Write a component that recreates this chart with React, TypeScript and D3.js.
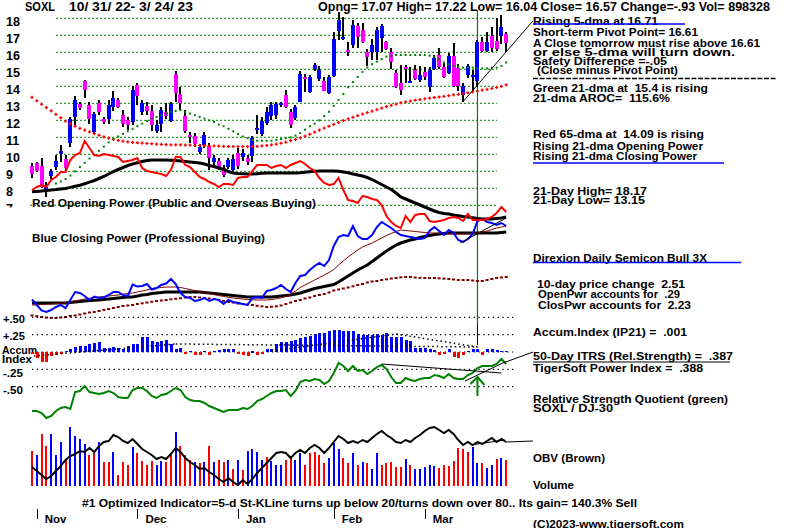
import React from "react";
import * as d3 from "d3";

// ---------------- DATA ----------------
const priceTicks = [7, 8, 9, 10, 11, 12, 13, 14, 15, 16, 17, 18];
const monthLabels = ["Nov", "Dec", "Jan", "Feb", "Mar"];
const monthStartIdx = [1, 22, 43, 63, 82];
const signalIdx = 93;

const open = [9.33,9.47,9.31,7.8,8.75,9.25,10.04,9.73,10.65,12.2,
 12.96,14.3,12.9,11.3,13.0,12.08,12.08,12.8,13.2,12.3,
 12.0,11.9,14.08,12.5,12.86,12.57,11.37,11.8,12.47,11.98,
 14.72,13.53,12.25,11.14,11.1,10.16,10.55,10.5,9.57,9.6,
 9.2,9.27,9.08,10.1,9.86,9.76,9.92,11.43,11.18,11.82,
 12.27,12.31,12.94,13.49,12.5,12.12,13.1,14.55,13.65,15.02,
 14.43,14.3,13.63,14.63,17.25,16.78,16.14,16.43,17.57,17.3,
 16.0,16.0,16.0,16.82,16.6,16.0,14.76,14.18,15.16,14.25,
 14.96,14.37,14.86,13.98,15.02,15.84,15.16,14.76,15.8,15.06,
 13.49,14.67,14.57,14.3,16.6,16.08,16.98,16.67,16.98,17.07];
const high = [9.47,9.57,9.76,8.4,9.16,9.96,10.55,9.96,12.2,13.45,
 13.1,14.4,13.1,12.5,13.2,12.2,13.2,13.7,13.33,12.6,
 12.2,14.0,14.2,13.2,13.1,12.9,12.0,12.8,13.0,13.1,
 14.92,13.98,12.6,11.3,11.24,10.6,11.3,10.65,9.96,9.76,
 9.4,9.8,9.96,10.35,10.33,9.96,11.1,12.3,12.2,12.8,
 13.06,13.1,13.1,13.8,12.65,12.9,14.9,14.7,14.67,15.35,
 15.2,14.55,14.67,17.2,18.4,18.1,16.6,17.9,17.7,17.7,
 16.2,16.8,17.5,17.65,16.65,16.24,14.96,15.25,15.25,15.16,
 15.25,15.2,15.16,15.16,15.84,16.24,15.41,15.94,16.53,15.3,
 14.18,15.3,14.96,16.73,16.92,17.2,17.5,18.0,18.2,17.22];
const low = [8.63,8.98,8.0,7.5,8.55,9.08,9.57,9.08,10.45,11.7,
 12.6,13.3,11.8,11.2,12.3,11.76,11.8,12.55,12.7,11.6,
 11.45,11.7,12.9,12.3,12.3,11.37,11.24,11.3,12.1,11.92,
 13.1,12.6,11.24,10.65,10.45,10.0,10.4,9.1,9.2,9.08,
 8.65,9.16,9.02,9.16,9.6,9.37,9.53,11.18,11.1,11.73,
 12.0,12.1,12.8,12.7,11.57,12.0,13.1,13.65,13.6,14.9,
 14.3,13.7,13.57,14.57,16.7,16.7,15.8,16.24,16.24,16.55,
 15.2,15.55,15.55,16.0,16.15,15.0,13.92,13.5,14.2,14.24,
 14.37,14.27,14.37,13.65,14.96,15.02,14.47,14.7,13.98,13.73,
 13.1,14.5,13.73,13.98,16.0,16.0,16.04,16.08,16.47,16.04];
const close = [8.82,9.04,8.1,8.06,9.0,9.6,10.2,9.22,12.08,13.2,
 12.7,13.8,12.1,12.35,12.47,11.88,12.9,13.3,12.8,11.8,
 11.7,13.8,13.45,13.0,12.57,11.7,11.7,12.6,12.27,12.96,
 13.6,13.04,11.37,11.0,10.6,10.45,11.14,9.76,9.8,9.2,
 8.8,9.66,9.7,9.33,10.1,9.53,10.94,11.57,11.96,12.47,
 12.9,12.94,13.0,12.8,11.73,12.8,14.7,14.45,14.57,15.25,
 14.96,13.73,14.57,16.78,17.9,16.9,16.04,17.6,16.92,16.6,
 15.75,16.43,17.3,17.57,16.2,15.45,13.98,13.8,15.06,14.33,
 14.43,14.67,14.57,14.96,15.65,15.16,14.57,15.8,14.04,14.0,
 14.04,15.2,14.67,16.63,16.08,16.63,16.24,16.2,17.49,16.57];

const ma21 = [null,null,null,null,null,8.28,8.4,8.55,8.75,9.0,
 9.25,9.5,9.75,9.95,10.2,10.45,10.7,10.9,11.05,11.2,
 11.35,11.5,11.65,11.8,11.95,12.1,12.2,12.3,12.4,12.5,
 12.55,12.6,12.5,12.4,12.3,12.2,12.1,12.0,11.9,11.75,
 11.65,11.5,11.35,11.2,11.05,10.95,10.85,10.8,10.8,10.8,
 10.8,10.85,10.9,10.95,11.0,11.1,11.25,11.45,11.65,11.8,
 12.0,12.25,12.5,12.85,13.2,13.55,13.95,14.25,14.55,14.85,
 15.1,15.3,15.45,15.6,15.75,15.8,15.84,15.84,15.84,15.84,
 15.84,15.84,15.84,15.8,15.75,15.6,15.4,15.3,15.2,15.15,
 15.1,15.1,15.1,15.05,15.05,15.05,15.1,15.1,15.2,15.4];
const ma65 = [13.35,13.15,12.95,12.75,12.55,12.35,12.15,11.95,11.8,11.65,
 11.52,11.42,11.32,11.22,11.12,11.03,10.95,10.88,10.82,10.77,
 10.73,10.7,10.68,10.66,10.64,10.62,10.6,10.58,10.57,10.56,
 10.55,10.55,10.54,10.54,10.53,10.52,10.51,10.5,10.49,10.48,
 10.47,10.46,10.46,10.45,10.45,10.45,10.45,10.47,10.5,10.52,
 10.55,10.6,10.65,10.72,10.8,10.88,10.97,11.07,11.18,11.3,
 11.42,11.54,11.65,11.76,11.87,11.98,12.08,12.18,12.27,12.36,
 12.45,12.54,12.63,12.72,12.8,12.88,12.95,13.02,13.08,13.13,
 13.18,13.22,13.26,13.3,13.34,13.37,13.41,13.45,13.49,13.53,
 13.57,13.62,13.67,13.72,13.77,13.82,13.88,13.94,14.0,14.08];

const openPower = [70,71.5,72.5,71.5,75,76.5,79,79,85,87.5,
 88.5,94.5,91,87.5,87,88,87.5,87,86.5,84,
 84.5,85,86,81,79.5,79,78.5,78,77,80,
 86.5,86.5,82.5,81.5,79,76.5,75.5,74,73,71.5,
 73,73,72.5,76,76.5,76.5,79.5,82.5,82.5,82.5,
 81,82,82.5,81,82.5,83.5,84.5,83,81,79.5,
 76,73.5,72.5,73,76,70,65,64.5,63.5,67,
 66.5,65.5,65,62.5,57,54,52,51,57,54,
 57.5,58,58,54.5,54,54.5,55,56,56.5,56,
 54.5,58,55,55,55,55.5,56.5,58.5,61.5,59];
const openPowerMa = [69.1,69.3,69.5,69.8,70,70.2,70.5,70.8,71.3,71.9,
 72.4,73.1,73.9,74.75,75.75,76.75,78,79.25,80.25,81.25,
 82.25,83,83.6,84.25,84.75,85,85,85,85,84.85,
 84.7,84.5,84.25,84,83.75,83.5,83,82.25,81.75,81,
 80.25,79.25,78.5,78.25,78.1,78,78,78.15,78.35,78.5,
 78.5,78.5,78.5,78.5,78.5,78.5,78.6,78.85,79.1,79.35,
 79.5,79.5,79.5,79.5,79.35,79,78.6,78,77.5,77,
 76.25,75.25,74,72.75,71.5,70.25,68.5,66.5,65.5,64.5,
 63.5,62.5,61.5,60.5,59.5,58.75,58.25,58,57.5,57.1,
 56.75,56.5,56.1,55.75,55.5,55.5,55.5,55.75,56,56.5];
const closePower = [15.25,12.5,9.75,9,10,11.5,12.5,11,15,19,
 18.5,17,15,16.75,16,16.25,17.5,19,19,17.5,
 17,22.75,21.75,22,23,20.25,21,22.5,23.25,25.5,
 23,18.5,16.5,16,14.5,15,16,14.5,15.5,15,
 13,15,14,13.5,13,12.5,16,16.5,16,19.5,
 20,21,22.5,20.5,19,23.5,27,27.5,30,32,
 33.5,32,35,42,46.5,47.5,47,52,47,45.5,
 45.5,47.5,51.5,54,52.5,51,49,47.5,47,46.5,
 46,45.5,46,49.5,51.5,49.5,47.5,50,48.5,45,
 44,45.5,48,54.5,55.5,54,53.5,52.5,53.5,52];
const closePowerMa21 = [12.5,12.6,12.75,12.85,13,13.2,13.4,13.7,14.1,14.6,
 15,15.5,15.9,16.25,16.5,16.75,17,17.25,17.5,17.9,
 18.25,18.5,19,19.5,20,20.75,21,21.25,21.5,21.5,
 21.5,21.25,20.75,20.25,19.75,19.25,18.75,18.25,17.75,17.25,
 16.75,16.35,16,15.75,15.5,15.25,15.1,15,15,15,
 15.25,15.6,16.1,16.75,18,19.5,21.25,22.5,23.75,25,
 26.25,27.5,28.75,30.25,32.5,34.5,36.5,38.25,40,41.5,
 42.5,43.5,44.75,46,47.25,48.25,49.25,50,49.75,49.5,
 49.25,49,48.75,48.5,48.5,48.4,48.25,48.15,48,48,
 48,48,48.25,48.75,49,49.5,50.25,51,51.5,52];
const closePowerMa = [13.5,13.5,13.5,13.5,13.5,13.5,13.5,13.5,13.75,14,
 14.25,14.5,14.75,14.9,15,15.25,15.5,15.75,16,16.25,
 16.5,16.5,17,17.5,17.75,18.25,18.5,18.75,19,19,
 19,19,19,19,19,19,18.75,18.5,18.25,18,
 17.75,17.5,17.25,17,16.75,16.5,16.5,16.5,16.5,16.5,
 16.5,16.75,17,17.25,17.5,18,18.5,19.25,20,20.75,
 21.25,21.75,22.25,22.75,24,25.5,27,28.5,30,31.25,
 32.5,34.25,36,37.75,39.5,41,42.5,43.5,44.25,45,
 45.5,46.25,46.75,47.25,47.75,48,48.25,48.5,48.5,48.5,
 48.5,48.5,48.5,48.5,48.5,48.5,48.5,48.5,48.75,49];
const closePowerMa65 = [7.25,6.9,6.5,6.2,6,6,6.25,6.5,7,7.25,
 7.75,8.25,8.75,9,9.5,10,10.5,11,11.5,12,
 12.25,12.5,13,13.35,13.75,14.1,14.5,14.75,15,15.35,
 15.6,15.9,16.25,16.5,16.5,16.25,16,15.75,15.5,15,
 14.5,14,13.75,13.25,13,12.75,12.5,12.1,11.85,11.5,
 11.6,11.85,12.25,13,13.75,14.5,15,15.75,16.25,17,
 17.5,18,18.75,19.75,20.25,20.75,21.25,21.85,22.5,23,
 23.75,24.25,24.5,25,25.35,25.75,26,26.35,26.5,26.5,
 26.25,26.1,26,26,26,25.85,25.65,25.5,25.25,25,
 25,25,24.75,24.5,24.5,25,25.5,26,26.25,26.5];

const accum = [-0.03,-0.08,-0.14,-0.15,-0.06,-0.04,-0.03,0.02,0.05,0.07,
 0.08,0.09,0.11,0.13,0.15,0.06,0.06,0.07,0.06,0.04,
 0.08,0.11,0.12,0.22,0.21,0.16,0.14,0.16,0.17,0.11,
 0.04,0.06,-0.02,0.02,-0.04,-0.04,0.02,-0.04,0.02,0.03,
 0.04,0.05,0.04,-0.03,-0.04,-0.06,0.01,-0.04,-0.03,0.04,
 0.05,0.12,0.14,0.15,0.16,0.17,0.20,0.22,0.23,0.26,
 0.27,0.28,0.30,0.32,0.32,0.31,0.30,0.31,0.26,0.24,
 0.24,0.25,0.26,0.24,0.28,0.22,0.22,0.21,0.18,0.16,
 0.06,0.06,0.06,0.05,0.03,-0.04,-0.03,0.05,-0.07,-0.08,
 -0.05,0.02,0.04,0.04,-0.04,0.04,0.04,0.03,0.02,0.02];
const rsQuotient = [19,19,17,12,14,19,22,23,21,38,
 39,44,38,37,36,37,39,37,33,32,
 32,40,42,42,39,34,32,35,36,39,
 42,40,33,30,29,29,27,24,22,20,
 18,20,20,20,22,21,24,29,31,34,
 37,39,39,40,34,39,48,50,49,51,
 50,46,49,57,67,64,59,64,59,60,
 56,59,63,65,61,53,47,47,52,50,
 49,51,52,52,55,54,52,56,52,51,
 51,55,57,62,64,64,64,66,71,66];
const obv = [23,19,15,11,14,19,24,30,34,36,
 39,38,42,38,44,48,49,55,53,49,
 47,51,46,41,38,35,31,33,31,36,
 42,38,32,28,25,21,22,18,15,11,
 8,12,8,5,10,6,11,17,22,27,
 32,37,38,37,32,37,40,37,42,45,
 42,37,42,48,54,51,47,49,47,50,
 48,52,56,59,55,52,48,47,50,48,
 52,55,59,62,63,60,57,60,56,50,
 45,48,45,48,46,49,52,48,51,48];
const volume = [35,31,52,40,52,31,44,26,59,50,
 47,42,31,34,44,24,24,34,11,24,
 21,39,33,25,21,25,21,25,24,31,
 54,40,31,26,24,23,24,40,24,26,
 24,26,17,26,16,35,37,34,26,29,
 25,21,21,26,28,26,33,21,33,34,
 31,23,28,43,37,28,23,33,21,24,
 23,17,33,21,23,24,19,19,27,21,
 17,17,19,21,20,18,21,20,25,38,
 37,34,39,23,23,18,21,27,28,26];
const volDir = "rbrrbbbrbbbbrrbrrbrrrbrrrrbbrrbrrrbrbrbrrbrbrbbbbrbbbrrbbrrrrrbbbrrbrbrbbrrrrrbrbbbbbrrrrrrrbbrbbrbr".split("");

const accumLevels = [0.5, 0.25, 0, -0.25, -0.5];
const priceTrend = [{ i: 90, v: 13.1 }, { i: 104.6, v: 17.85 }];
const accumTrends = [
  [{ i: 0.4, v: -0.058 }, { i: 30, v: 0.116 }],
  [{ i: 30, v: 0.116 }, { i: 93, v: 0.072 }],
  [{ i: 50, v: 0.014 }, { i: 76, v: 0.26 }],
  [{ i: 76, v: 0.26 }, { i: 93, v: 0.072 }],
];
const rsTrends = [
  [{ i: 73, v: 66 }, { i: 98, v: 57 }],
  [{ i: 90.4, v: 49 }, { i: 98.3, v: 67 }, { i: 104.6, v: 78 }],
];
const powTrend = [{ i: 89.4, v: 43.5 }, { i: 99, v: 56 }];
const obvTrend = [{ i: 91.6, v: 45 }, { i: 98.7, v: 50 }];
const obvTail = [{ i: 99, v: 48 }, { i: 104.6, v: 49 }];

// ---------------- COMPONENT ----------------
const FONT = "'Liberation Sans', Arial, Helvetica, sans-serif";

function Txt(props: { x: number; y: number; w?: number; children: string; fill?: string; size?: number }) {
  const { x, y, w, children, fill = "#000", size = 11.5 } = props;
  return (
    <text
      x={x}
      y={y}
      fontFamily={FONT}
      fontWeight="bold"
      fontSize={size}
      fill={fill}
      textLength={w}
      lengthAdjust={w ? "spacingAndGlyphs" : undefined}
      style={{ whiteSpace: "pre" }}
    >
      {children}
    </text>
  );
}

export default function App() {
  const n = close.length;
  const idx = d3.range(n);
  const x = d3.scaleLinear().domain([0, n - 1]).range([32, 506.2]);
  const yP = d3.scaleLinear().domain([7, 18]).range([205.3, 18.3]);
  const yPow = d3.scaleLinear().domain([0, 100]).range([330, 130]);
  const yAcc = d3.scaleLinear().domain([-0.5, 0.5]).range([386.6, 317.4]);
  const yRs = d3.scaleLinear().domain([0, 100]).range([430, 330]);
  const yVol = d3.scaleLinear().domain([0, 60]).range([486, 426]);
  const yObv = d3.scaleLinear().domain([0, 100]).range([490, 390]);

  const powLine = d3.line<number>().x((_, i) => x(i)).y((d) => yPow(d));
  const rsLine = d3.line<number>().x((_, i) => x(i)).y((d) => yRs(d));
  const obvLine = d3.line<number>().x((_, i) => x(i)).y((d) => yObv(d));
  const ptLine = (sy: (v: number) => number) =>
    d3.line<{ i: number; v: number }>().x((d) => x(d.i)).y((d) => sy(d.v));

  const gridX0 = 56, gridX1 = 497;
  const sigX = x(signalIdx);

  return (
    <svg
      width={800}
      height={528}
      viewBox="0 0 800 528"
      style={{ position: "absolute", left: 0, top: 0, background: "#fff" }}
    >
      <defs>
        <clipPath id="clip7">
          <rect x={0} y={0} width={30} height={207.5} />
        </clipPath>
      </defs>
      <rect x={0} y={0} width={800} height={528} fill="#fff" />

      {/* price gridlines */}
      {priceTicks.map((p) => (
        <line
          key={"g" + p}
          x1={p === 7 ? 30 : gridX0}
          x2={gridX1}
          y1={yP(p)}
          y2={yP(p)}
          stroke="#008000"
          strokeWidth={1}
          strokeDasharray="2 2"
        />
      ))}
      {priceTicks.map((p) => (
        <g key={"pl" + p} clipPath={p === 7 ? "url(#clip7)" : undefined}>
          <Txt x={6} y={yP(p) + 7.7} size={12.5}>{String(p)}</Txt>
        </g>
      ))}

      {/* header */}
      <Txt x={25} y={11} w={30} size={12.5}>SOXL</Txt>
      <Txt x={69} y={11} w={124} size={12.5}>10/ 31/ 22- 3/ 24/ 23</Txt>
      <Txt x={318} y={11} w={452} size={12.5}>Opng= 17.07 High= 17.22 Low= 16.04 Close= 16.57 Change=-.93 Vol= 898328</Txt>

      {/* signal vertical */}
      <line x1={sigX} x2={sigX} y1={10} y2={324} stroke="#008000" strokeWidth={1.2} />
      <line x1={sigX} x2={sigX} y1={324} y2={345} stroke="#000" strokeWidth={1} />

      {/* candles */}
      {idx.map((i) => {
        const up = close[i] >= open[i];
        const yt = yP(Math.max(open[i], close[i]));
        const yb = yP(Math.min(open[i], close[i]));
        const cx = Math.round(x(i));
        return (
          <g key={"c" + i} shapeRendering="crispEdges">
            <rect x={cx - 1} y={yP(high[i])} width={2} height={yP(low[i]) - yP(high[i])} fill="#000" />
            <rect x={cx - 2} y={yt} width={4} height={Math.max(2, yb - yt)} fill={up ? "#0000ff" : "#ff00ff"} />
          </g>
        );
      })}

      {/* 65-dma red crosses */}
      {idx.map((i) => (
        <path
          key={"r" + i}
          d={`M${x(i) - 1.6},${yP(ma65[i])}h3.2M${x(i)},${yP(ma65[i]) - 1.6}v3.2`}
          stroke="#ff0000"
          strokeWidth={1.3}
        />
      ))}
      {/* 21-dma green dots */}
      {idx.filter((i) => ma21[i] != null).map((i) => (
        <rect key={"gd" + i} x={x(i) - 1} y={yP(ma21[i] as number) - 1} width={2} height={2} fill="#008000" />
      ))}

      {/* price trend line */}
      <path d={ptLine(yP)(priceTrend) || ""} stroke="#000" strokeWidth={1} fill="none" />

      {/* power panels */}
      <path d={powLine(closePowerMa) || ""} stroke="#000" strokeWidth={3} fill="none" />
      <path d={powLine(closePowerMa21) || ""} stroke="#800000" strokeWidth={1} fill="none" />
      {idx.map((i) => (
        <rect key={"bd" + i} x={x(i) - 1.5} y={yPow(closePowerMa65[i]) - 1} width={3} height={2} fill="#800000" />
      ))}
      <path d={powLine(closePower) || ""} stroke="#0000ff" strokeWidth={2} fill="none" />
      <path d={powLine(openPowerMa) || ""} stroke="#000" strokeWidth={3} fill="none" />
      <path d={powLine(openPower) || ""} stroke="#ff0000" strokeWidth={2} fill="none" />
      <path d={ptLine(yPow)(powTrend) || ""} stroke="#000" strokeWidth={1} fill="none" />

      <Txt x={32} y={206.5} w={284}>Red Opening Power (Public and Overseas Buying)</Txt>
      <Txt x={32} y={242} w={233}>Blue Closing Power (Professional Buying)</Txt>

      {/* accum panel */}
      {accumLevels.map((v) => (
        <line
          key={"al" + v}
          x1={32}
          x2={516}
          y1={yAcc(v)}
          y2={yAcc(v)}
          stroke="#000"
          strokeWidth={1.2}
          strokeDasharray="1.3 3.5"
        />
      ))}
      <Txt x={3} y={323} w={22}>+.50</Txt>
      <Txt x={3} y={340} w={22}>+.25</Txt>
      <Txt x={2} y={353.5} w={35}>Accum</Txt>
      <Txt x={2} y={363} w={30}>Index</Txt>
      <Txt x={3} y={377} w={20}>-.25</Txt>
      <Txt x={3} y={394} w={20}>-.50</Txt>
      {idx.map((i) => {
        const v = accum[i];
        const y0 = yAcc(0);
        const y1 = yAcc(v);
        return (
          <rect
            key={"a" + i}
            x={Math.round(x(i)) - 1.5}
            y={Math.min(y0, y1)}
            width={3}
            height={Math.max(1.5, Math.abs(y1 - y0))}
            fill={v >= 0 ? "#0000ff" : "#ff0000"}
            shapeRendering="crispEdges"
          />
        );
      })}
      {accumTrends.map((t, k) => (
        <path key={"at" + k} d={ptLine(yAcc)(t) || ""} stroke="#000" strokeWidth={1.5} strokeDasharray="1.5 3" fill="none" />
      ))}

      {/* RS quotient */}
      <path d={rsLine(rsQuotient) || ""} stroke="#008000" strokeWidth={2} fill="none" />
      {rsTrends.map((t, k) => (
        <path key={"rt" + k} d={ptLine(yRs)(t) || ""} stroke="#000" strokeWidth={1} fill="none" />
      ))}
      <line x1={sigX} x2={sigX} y1={yRs(34)} y2={yRs(53)} stroke="#008000" strokeWidth={2} />
      <path
        d={`M${sigX - 7},${yRs(46)}L${sigX},${yRs(53)}L${sigX + 7},${yRs(45)}`}
        stroke="#008000"
        strokeWidth={2}
        fill="none"
      />

      {/* volume */}
      {idx.map((i) => (
        <rect
          key={"v" + i}
          x={Math.round(x(i)) - 1}
          y={yVol(volume[i])}
          width={2}
          height={yVol(0) - yVol(volume[i])}
          fill={volDir[i] === "b" ? "#0000ff" : "#ff0000"}
          shapeRendering="crispEdges"
        />
      ))}
      <path d={obvLine(obv) || ""} stroke="#000" strokeWidth={2} fill="none" />
      <path d={ptLine(yObv)(obvTrend) || ""} stroke="#000" strokeWidth={1} fill="none" />
      <path d={ptLine(yObv)(obvTail) || ""} stroke="#000" strokeWidth={1} fill="none" />

      {/* month axis */}
      {monthStartIdx.map((mi, k) => (
        <g key={"m" + k}>
          <line x1={Math.round(x(mi)) + 0.5} x2={Math.round(x(mi)) + 0.5} y1={509} y2={519} stroke="#000" strokeWidth={1} />
          <Txt x={x(mi) + 8} y={523}>{monthLabels[k]}</Txt>
        </g>
      ))}
      <Txt x={82} y={506.5} w={555}>#1 Optimized Indicator=5-d St-KLine turns up below 20/turns down over 80.. Its gain= 140.3% Sell</Txt>

      {/* right-side notes */}
      <Txt x={533} y={25} w={125}>Rising 5-dma at 16.71</Txt>
      <line x1={533} x2={685} y1={24} y2={24} stroke="#0000ff" strokeWidth={1.5} />
      <Txt x={533} y={36} w={165}>Short-term Pivot Point= 16.61</Txt>
      <Txt x={533} y={46.5} w={227}>A Close tomorrow must rise above 16.61</Txt>
      <Txt x={533} y={55.5} w={202}>or else 5-dma will turn down.</Txt>
      <Txt x={533} y={64.5} w={134}>Safety Difference =-.05</Txt>
      <Txt x={537} y={73.5} w={141}>(Close minus Pivot Point)</Txt>
      <line x1={533} x2={777} y1={78.5} y2={78.5} stroke="#000" strokeWidth={1.3} strokeDasharray="5 1.6" />
      <Txt x={533} y={91.5} w={175}>Green 21-dma at  15.4 is rising</Txt>
      <Txt x={533} y={101.5} w={137}>21-dma AROC=  115.6%</Txt>
      <Txt x={533} y={138} w={171}>Red 65-dma at  14.09 is rising</Txt>
      <Txt x={533} y={149.5} w={170}>Rising 21-dma Opening Power</Txt>
      <Txt x={533} y={160} w={164}>Rising 21-dma Closing Power</Txt>
      <line x1={533} x2={724} y1={163} y2={163} stroke="#0000ff" strokeWidth={1.5} />
      <Txt x={533} y={195} w={114}>21-Day High= 18.17</Txt>
      <Txt x={533} y={204} w={112}>21-Day Low= 13.15</Txt>
      <Txt x={533} y={261.5} w={174}>Direxion Daily Semicon Bull 3X</Txt>
      <line x1={533} x2={741} y1={262.5} y2={262.5} stroke="#0000ff" strokeWidth={1.5} />
      <Txt x={537} y={287.5} w={148}>10-day price change  2.51</Txt>
      <Txt x={538} y={297.5} w={142}>OpenPwr accounts for  .29</Txt>
      <Txt x={538} y={309} w={153}>ClosPwr accounts for  2.23</Txt>
      <Txt x={533} y={336} w={154}>Accum.Index (IP21) =  .001</Txt>
      <Txt x={533} y={360} w={200}>50-Day ITRS (Rel.Strength) =  .387</Txt>
      <line x1={533} x2={730} y1={362} y2={362} stroke="#000" strokeWidth={1.2} />
      <Txt x={533} y={372} w={170}>TigerSoft Power Index =  .388</Txt>
      <Txt x={533} y={402.5} w={195}>Relative Strength Quotient (green)</Txt>
      <Txt x={533} y={411.5} w={80}>SOXL / DJ-30</Txt>
      <Txt x={533} y={461.5} w={72}>OBV (Brown)</Txt>
      <Txt x={533} y={488.5} w={41}>Volume</Txt>
      <Txt x={533} y={528} w={151}>(C)2023-www.tigersoft.com</Txt>
    </svg>
  );
}
